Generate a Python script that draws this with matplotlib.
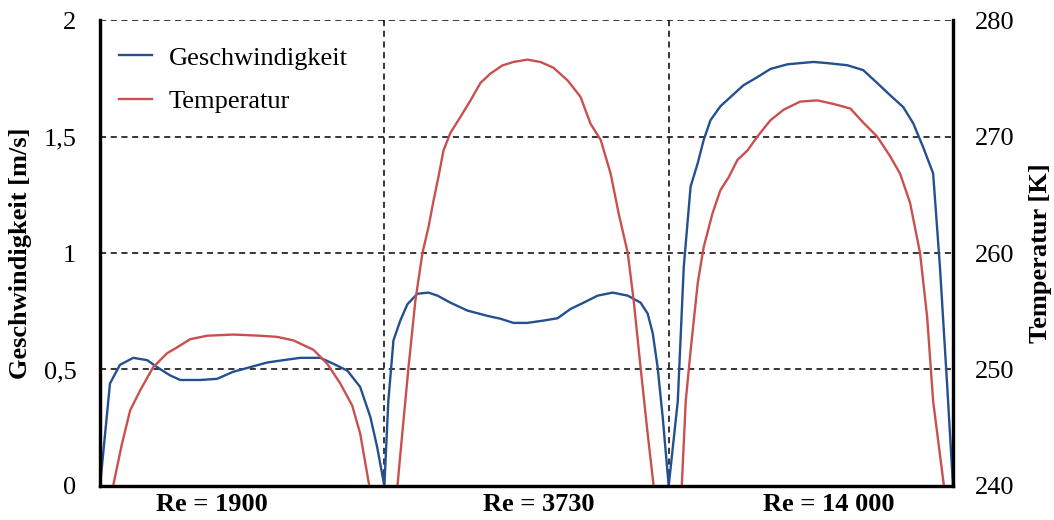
import matplotlib
matplotlib.use("Agg")
import matplotlib.pyplot as plt
import numpy as np

# Daten: Position im Querschnitt (0..1) je Reynoldszahl
re_labels = ["Re = 1900", "Re = 3730", "Re = 14 000"]

v1_x = [0, 0.035, 0.07, 0.117, 0.166, 0.201, 0.246, 0.282, 0.352, 0.412, 0.468,
        0.528, 0.588, 0.644, 0.704, 0.775, 0.82, 0.87, 0.915, 0.951, 0.975, 1.0]
v1_y = [0, 0.44, 0.52, 0.55, 0.54, 0.51, 0.475, 0.455, 0.455, 0.46, 0.49,
        0.51, 0.53, 0.54, 0.55, 0.55, 0.525, 0.495, 0.425, 0.295, 0.165, 0]

v2_x = [0, 0.014, 0.032, 0.056, 0.081, 0.116, 0.155, 0.187, 0.232, 0.292, 0.363,
        0.408, 0.454, 0.503, 0.560, 0.609, 0.655, 0.701, 0.750, 0.803, 0.856,
        0.901, 0.926, 0.944, 0.961, 0.979, 1.0]
v2_y = [0, 0.365, 0.625, 0.71, 0.78, 0.825, 0.83, 0.817, 0.787, 0.753, 0.73,
        0.718, 0.70, 0.70, 0.71, 0.72, 0.76, 0.787, 0.817, 0.83, 0.817,
        0.787, 0.74, 0.655, 0.51, 0.295, 0]

v3_x = [0, 0.032, 0.053, 0.077, 0.102, 0.123, 0.147, 0.182, 0.218, 0.263, 0.312,
        0.358, 0.418, 0.463, 0.509, 0.558, 0.628, 0.684, 0.733, 0.779, 0.825,
        0.860, 0.895, 0.930, 0.954, 0.979, 1.0]
v3_y = [0, 0.365, 0.94, 1.285, 1.385, 1.485, 1.57, 1.63, 1.67, 1.72, 1.755,
        1.79, 1.81, 1.815, 1.82, 1.815, 1.806, 1.785, 1.73, 1.677, 1.626,
        1.557, 1.454, 1.342, 0.94, 0.44, 0]

t1_x = [0.046, 0.077, 0.106, 0.141, 0.187, 0.236, 0.271, 0.317, 0.377, 0.469,
        0.563, 0.623, 0.680, 0.750, 0.799, 0.845, 0.887, 0.915, 0.947]
t1_y = [240, 243.6, 246.5, 248.2, 250.2, 251.4, 251.9, 252.6, 252.9, 253.0,
        252.9, 252.8, 252.5, 251.7, 250.5, 248.8, 246.9, 244.5, 240]

t2_x = [0.046, 0.063, 0.085, 0.109, 0.134, 0.155, 0.173, 0.190, 0.208, 0.232,
        0.268, 0.303, 0.338, 0.373, 0.415, 0.454, 0.503, 0.549, 0.595, 0.645,
        0.690, 0.725, 0.761, 0.796, 0.824, 0.856, 0.877, 0.901, 0.926, 0.947]
t2_y = [240, 244.5, 250.2, 255.9, 260, 262.2, 264.5, 266.5, 268.8, 270.3,
        271.7, 273.1, 274.6, 275.4, 276.1, 276.4, 276.6, 276.4, 275.9, 274.8,
        273.4, 271.1, 269.7, 266.8, 263.4, 260, 255.9, 250.2, 244.5, 240]

t3_x = [0.046, 0.060, 0.077, 0.102, 0.123, 0.154, 0.182, 0.211, 0.242, 0.277,
        0.312, 0.358, 0.404, 0.463, 0.523, 0.579, 0.639, 0.684, 0.733, 0.779,
        0.814, 0.849, 0.884, 0.909, 0.930, 0.968]
t3_y = [240, 247.3, 251.6, 257.4, 260.5, 263.4, 265.4, 266.5, 268, 268.8,
        270, 271.4, 272.3, 273, 273.1, 272.8, 272.4, 271.2, 270, 268.3,
        266.8, 264.3, 260, 254.5, 247.3, 240]

blau = "#24508f"
rot = "#c9504f"

plt.rcParams["font.family"] = ["Liberation Serif", "DejaVu Serif"]
plt.rcParams["font.size"] = 19

fig = plt.figure(figsize=(10.54, 5.2), dpi=100)
ax = fig.add_axes([0.0949, 0.0654, 0.8093, 0.8961])
ax2 = ax.twinx()

# Geschwindigkeit als durchgehende Linie
vx = np.concatenate([np.array(v1_x), np.array(v2_x) + 1, np.array(v3_x) + 2])
vy = np.concatenate([v1_y, v2_y, v3_y])
l1, = ax.plot(vx, vy, color=blau, lw=1.7, label="Geschwindigkeit")

# Temperatur je Abschnitt
l2 = None
for i, (tx, ty) in enumerate([(t1_x, t1_y), (t2_x, t2_y), (t3_x, t3_y)]):
    ln, = ax2.plot(np.array(tx) + i, ty, color=rot, lw=1.7)
    if l2 is None:
        l2 = ln

ax.set_xlim(0, 3)
ax.set_ylim(0, 2)
ax2.set_ylim(240, 280)
ax.set_yticks([0, 0.5, 1, 1.5, 2])
ax.set_yticklabels(["0", "0,5", "1", "1,5", "2"])
ax2.set_yticks([240, 250, 260, 270, 280])

ax.set_xticks([0.394, 1.542, 2.563])
ax.set_xticklabels(re_labels, fontweight="bold")

ax.tick_params(axis="y", length=0, pad=17)
ax.tick_params(axis="x", length=0, pad=5)
ax2.tick_params(axis="y", length=0, pad=16)

# Gitter
for yv in [0.5, 1, 1.5, 2]:
    ax.axhline(yv, color="black", lw=1.1, ls=(0, (4, 3)), zorder=0.5)
for xv in [1, 2]:
    ax.axvline(xv, color="black", lw=1.1, ls=(0, (4, 3)), zorder=0.5)

for a in (ax, ax2):
    a.spines["top"].set_visible(False)
    for s in ["left", "right", "bottom"]:
        a.spines[s].set_linewidth(2.3)

ax.set_ylabel("Geschwindigkeit [m/s]", fontweight="bold", labelpad=8)
ax2.set_ylabel("Temperatur [K]", fontweight="bold", labelpad=10)

ax.legend([l1, l2], ["Geschwindigkeit", "Temperatur"], loc="upper left",
          frameon=False, handlelength=1.25, handletextpad=0.65,
          labelspacing=0.75, bbox_to_anchor=(-0.006, 0.995))

fig.savefig("out.png", dpi=100)
